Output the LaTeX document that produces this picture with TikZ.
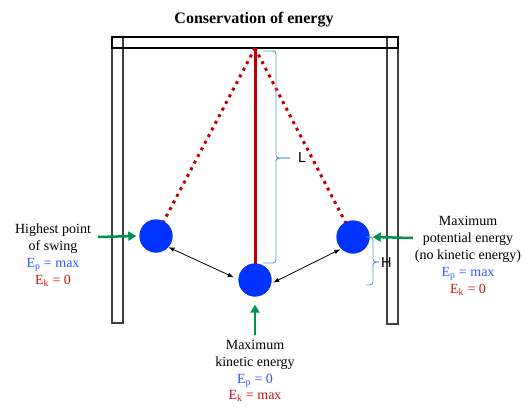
\documentclass[tikz,border=0pt]{standalone}
\usepackage{fontspec}
\setmainfont{Liberation Serif}
\newfontfamily\labelsans{Liberation Sans}
\usetikzlibrary{arrows.meta}
\definecolor{ballblue}{RGB}{0,51,255}
\definecolor{rodred}{RGB}{192,0,0}
\definecolor{pgreen}{RGB}{0,145,80}
\definecolor{braceblue}{RGB}{91,155,213}
\definecolor{txtblue}{RGB}{51,85,255}
\definecolor{txtred}{RGB}{204,20,20}
\begin{document}
\begin{tikzpicture}[x=1pt,y=-1pt,
 frame/.style={draw=black!75,line width=1.1pt},
 ball/.style={circle,fill=ballblue,inner sep=0pt,minimum size=33pt},
 rod/.style={draw=rodred,line width=3pt},
 swing/.style={draw=rodred,line width=3pt,dash pattern=on 3pt off 4.5pt},
 pointer/.style={draw=pgreen,line width=2.5pt,-{Triangle[length=8pt,width=9pt]}},
 motion/.style={draw=black,line width=0.8pt,{Latex[length=6pt,width=4.5pt]}-{Latex[length=6pt,width=4.5pt]}},
 brace/.style={draw=braceblue,line width=0.9pt,rounded corners=3pt},
 caption/.style={font=\fontsize{14}{17}\selectfont,align=center,inner sep=0pt,anchor=north},
 dimlabel/.style={font=\labelsans\fontsize{14.5}{16}\selectfont,inner sep=0pt},
 titletext/.style={font=\fontsize{16}{19}\selectfont\bfseries,inner sep=0pt,anchor=base}
]
\useasboundingbox (0,0) rectangle (525,405);

% title
\node[titletext] (title) at (254,23) {Conservation of energy};

% frame
\draw[frame] (112,37) rectangle (123,323);
\draw[frame] (387,37) rectangle (398,324);
\draw[frame,draw=black] (112,37) rectangle (398,48);

% pivot and balls
\coordinate (pivot) at (255,48);
\node[ball] (lb) at (156,236) {};
\node[ball] (cb) at (255,280) {};
\node[ball] (rb) at (353,237) {};

% strings (behind balls)
\path[swing] (pivot) -- (lb.center);
\path[swing] (pivot) -- (rb.center);
\path[rod] (pivot) -- (cb.center);
% redraw balls on top
\node[ball] at (lb.center) {};
\node[ball] at (cb.center) {};
\node[ball] at (rb.center) {};

% motion arrows
\draw[motion,shorten >=5pt] (lb.-42) -- (cb.178);
\draw[motion,shorten <=2pt,shorten >=1pt] (cb.-12) -- (rb.-135);

% L brace
\coordinate (Ltop) at (263,51);
\coordinate (Ltip) at (290,158);
\coordinate (Lbot) at (263,263);
\draw[brace] (Ltop) -| (276,158) -- (Ltip);
\draw[brace] (Ltip) -- (276,158) |- (Lbot);
\node[dimlabel,anchor=west] (Llab) at (298,158) {L};

% H brace
\coordinate (Htop) at (366,237);
\coordinate (Htip) at (379,262);
\coordinate (Hbot) at (366,285);
\draw[brace] (Htop) -| (373,262) -- (Htip);
\draw[brace] (Htip) -- (373,262) |- (Hbot);
\node[dimlabel,anchor=west] (Hlab) at (381,263) {H};

% captions
\node[caption] (ltext) at (53,223.4) {Highest point\\of swing\\
 \textcolor{txtblue}{E\textsubscript{p} = max}\\
 \textcolor{txtred}{E\textsubscript{k} = 0}};
\node[caption] (rtext) at (468,215.7) {Maximum\\potential energy\\(no kinetic energy)\\
 \textcolor{txtblue}{E\textsubscript{p} = max}\\
 \textcolor{txtred}{E\textsubscript{k} = 0}};
\node[caption,font=\fontsize{14}{16.6}\selectfont] (btext) at (255,340.5) {Maximum\\kinetic energy\\
 \textcolor{txtblue}{E\textsubscript{p} = 0}\\
 \textcolor{txtred}{E\textsubscript{k} = max}};

% green pointers
\coordinate (lstart) at (98,237);
\coordinate (rstart) at (413,238);
\coordinate (bstart) at (255,335);
\draw[pointer] (lstart) -- ([xshift=-3pt]lb.west);
\draw[pointer] (rstart) -- ([xshift=3pt]rb.east);
\draw[pointer] (bstart) -- ([yshift=-8pt]cb.south);
\end{tikzpicture}
\end{document}
